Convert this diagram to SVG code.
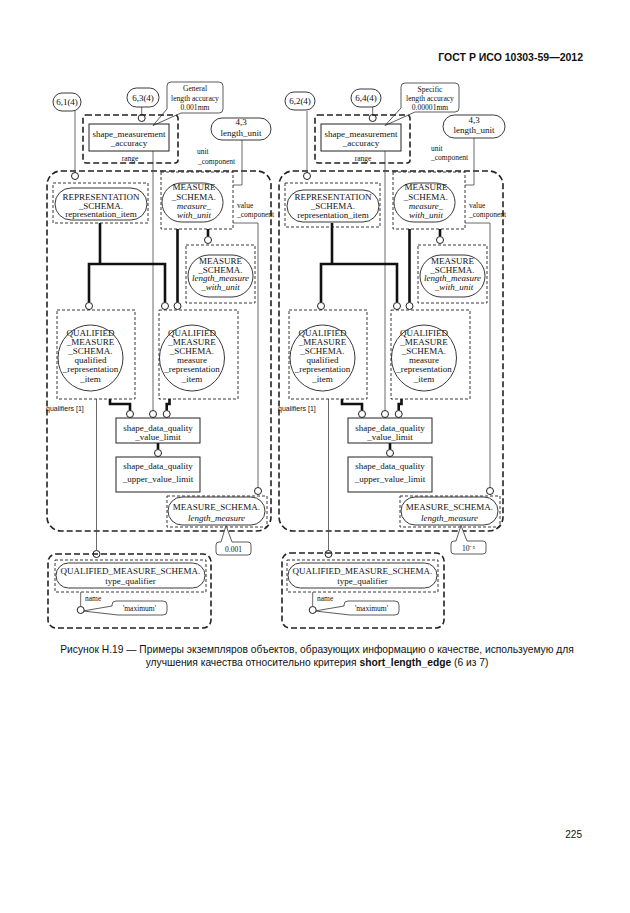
<svg xmlns="http://www.w3.org/2000/svg" width="630" height="913" viewBox="0 0 630 913">
<style>
.t{font-family:"Liberation Serif",serif;font-size:9px;fill:#111;text-anchor:middle}
.s{font-size:7.5px}
.n{font-size:7.6px}
.st{text-anchor:start}
.i{font-style:italic}
.cap{font-family:"Liberation Sans",sans-serif;fill:#111}
.box{fill:none;stroke:#222;stroke-width:1}
.pill{fill:none;stroke:#222;stroke-width:0.9}
.dash{fill:none;stroke:#222;stroke-width:0.9;stroke-dasharray:3,2}
.bdash{fill:none;stroke:#222;stroke-width:1.6;stroke-dasharray:6,3}
.ln{fill:none;stroke:#444;stroke-width:0.8}
.th{fill:none;stroke:#111;stroke-width:2.6}
.c{fill:#fff;stroke:#222;stroke-width:1}
.co{fill:#fff;stroke:#333;stroke-width:0.8}
</style>
<defs>
<circle id="dot" r="3.5" class="c"/>
</defs>
<rect width="630" height="913" fill="#fff"/>
<text class="cap" x="583" y="61" font-size="10.5" font-weight="bold" text-anchor="end">ГОСТ Р ИСО 10303-59—2012</text>

<!-- LEFT PANEL -->
<g id="left-panel">
<g id="L-container"><rect class="bdash" x="47" y="171" width="224" height="360" rx="14"/></g>
<g id="L-connectors">
<path class="ln" d="M75,111 V172.5"/>
<path class="ln" d="M141.7,107 V114.5"/>
<path class="ln" d="M153,151 V410.5"/>
<path class="ln" d="M242,140 V185 H233"/>
<path class="ln" d="M233,223 H258 V487.5"/>
<path class="ln" d="M96.5,399 V550.5"/>
<path class="ln" d="M80.7,592 V606.5"/>
<path class="th" d="M89,302.5 V264 H165 V302.5 M100,223 V264"/>
<path class="th" d="M177.5,229 V302.5"/>
<path class="th" d="M208,229 V236.5"/>
<path class="th" d="M110,399 V404 H130 V410.5"/>
<path class="th" d="M169.5,399 V404 H166.7 V410.5"/>
<path class="th" d="M158,443 V449.5"/>
<use href="#dot" x="75" y="176"/>
<use href="#dot" x="141.7" y="118"/>
<use href="#dot" x="208" y="240"/>
<use href="#dot" x="89" y="306"/>
<use href="#dot" x="165" y="306"/>
<use href="#dot" x="177.5" y="306"/>
<use href="#dot" x="130" y="414"/>
<use href="#dot" x="153" y="414"/>
<use href="#dot" x="166.7" y="414"/>
<use href="#dot" x="158" y="453"/>
<use href="#dot" x="258" y="491"/>
<use href="#dot" x="96.5" y="554"/>
<text class="t s st" x="197" y="154">unit</text>
<text class="t s st" x="198" y="163.5">_component</text>
<text class="t s st" x="237" y="207.5">value</text>
<text class="t s st" x="237" y="217">_component</text>
<text class="cap" x="46" y="411" font-size="7">qualifiers [1]</text>
<text class="t s st" x="85" y="600.5">name</text>
</g>
<g id="L-ref61"><rect class="pill" x="53" y="93" width="28" height="18" rx="9"/><text class="t" x="67" y="105.3">6,1(4)</text></g>
<g id="L-ref63"><rect class="pill" x="127" y="88" width="32" height="19" rx="9.5"/><text class="t" x="143" y="100.5">6,3(4)</text></g>
<g id="L-note-accuracy"><path class="co" d="M171,82 H219 Q223,82 223,86 V109 Q223,113 219,113 H181 L153,125.5 L167,109 V86 Q167,82 171,82 Z"/>
<text class="t n" x="195" y="91">General</text><text class="t n" x="195" y="100.5">length accuracy</text><text class="t n" x="195" y="110">0.001mm</text></g>
<g id="L-sma"><rect class="bdash" x="83" y="115" width="95" height="48" rx="3"/><rect class="box" x="89" y="124" width="80" height="27"/>
<text class="t" x="129" y="136.5">shape_measurement</text><text class="t" x="129" y="146">_accuracy</text><text class="t s" x="130" y="160.5">range</text></g>
<g id="L-ref43"><rect class="pill" x="211" y="118" width="60" height="22" rx="11"/><text class="t" x="241" y="125">4,3</text><text class="t" x="241" y="135.5">length_unit</text></g>
<g id="L-rep"><rect class="dash" x="53" y="183" width="95" height="40"/><rect class="pill" x="55" y="188" width="92" height="32" rx="16"/>
<text class="t" x="101" y="200">REPRESENTATION</text><text class="t" x="101" y="208.5">_SCHEMA.</text><text class="t" x="101" y="217">representation_item</text></g>
<g id="L-mwu"><rect class="dash" x="161" y="172" width="72" height="57"/><rect class="pill" x="162" y="183" width="61" height="39" rx="19.5"/>
<text class="t" x="194" y="190">MEASURE</text><text class="t" x="194" y="199.5">_SCHEMA.</text><text class="t i" x="194" y="209">measure_</text><text class="t i" x="194" y="218">with_unit</text></g>
<g id="L-lmwu"><rect class="dash" x="186" y="245" width="69" height="58"/><rect class="pill" x="188" y="255" width="65" height="42" rx="21"/>
<text class="t" x="220.5" y="264">MEASURE</text><text class="t" x="220.5" y="272.5">_SCHEMA.</text><text class="t i" x="220.5" y="281">length_measure</text><text class="t i" x="220.5" y="290">_with_unit</text></g>
<g id="L-qri"><rect class="dash" x="57" y="310" width="78" height="89"/><ellipse class="pill" cx="90.5" cy="358" rx="32.5" ry="33"/>
<text class="t" x="90.5" y="336">QUALIFIED</text><text class="t" x="90.5" y="345">_MEASURE</text><text class="t" x="90.5" y="354">_SCHEMA.</text><text class="t" x="90.5" y="363">qualified</text><text class="t" x="90.5" y="372">_representation</text><text class="t" x="90.5" y="381.5">_item</text></g>
<g id="L-mri"><rect class="dash" x="159" y="310" width="79" height="89"/><ellipse class="pill" cx="192" cy="358" rx="32.5" ry="33"/>
<text class="t" x="192" y="336">QUALIFIED</text><text class="t" x="192" y="345">_MEASURE</text><text class="t" x="192" y="354">_SCHEMA.</text><text class="t" x="192" y="363">measure</text><text class="t" x="192" y="372">_representation</text><text class="t" x="192" y="381.5">_item</text></g>
<g id="L-dqvl"><rect class="box" x="116" y="418" width="84" height="25"/><text class="t" x="158" y="430.5">shape_data_quality</text><text class="t" x="158" y="440">_value_limit</text></g>
<g id="L-dquvl"><rect class="box" x="116" y="457" width="84" height="35"/><text class="t" x="158" y="469">shape_data_quality</text><text class="t" x="158" y="482">_upper_value_limit</text></g>
<g id="L-lm"><rect class="dash" x="167" y="496" width="100" height="31"/><rect class="pill" x="168" y="497" width="97" height="28" rx="14"/>
<text class="t" x="216.5" y="510">MEASURE_SCHEMA.</text><text class="t i" x="216.5" y="520.5">length_measure</text></g>
<g id="L-note-value"><path class="co" d="M219,542 H221 L226,525.5 L232,542 H248 Q251,542 251,545 V552 Q251,555 248,555 H219 Q216,555 216,552 V545 Q216,542 219,542 Z"/><text class="t s" x="233.5" y="551.5">0.001</text></g>
<g id="L-tq"><rect class="bdash" x="48" y="554" width="163" height="74" rx="8"/><rect class="dash" x="55" y="560" width="151" height="32"/><rect class="pill" x="56" y="563" width="149" height="25" rx="12.5"/>
<text class="t" x="130.5" y="574">QUALIFIED_MEASURE_SCHEMA.</text><text class="t" x="130.5" y="584">type_qualifier</text></g>
<g id="L-note-max"><path class="co" d="M116,601 H163 Q167,601 167,605 V611 Q167,615 163,615 H118 L83,611 L112,606 V605 Q112,601 116,601 Z"/><text class="t s" x="139.5" y="611">'maximum'</text></g>
<use href="#dot" x="80.7" y="610"/>
</g>

<!-- RIGHT PANEL -->
<g id="right-panel" transform="translate(232,0)">
<g id="R-container"><rect class="bdash" x="47" y="171" width="224" height="360" rx="14"/></g>
<g id="R-connectors">
<path class="ln" d="M75,111 V172.5"/>
<path class="ln" d="M140.7,107 V114.5"/>
<path class="ln" d="M153,151 V410.5"/>
<path class="ln" d="M242,138 V185 H233"/>
<path class="ln" d="M233,223 H258 V487.5"/>
<path class="ln" d="M96.5,399 V550.5"/>
<path class="ln" d="M80.7,592 V606.5"/>
<path class="th" d="M89,302.5 V264 H165 V302.5 M100,223 V264"/>
<path class="th" d="M177.5,229 V302.5"/>
<path class="th" d="M208,229 V236.5"/>
<path class="th" d="M110,399 V404 H130 V410.5"/>
<path class="th" d="M169.5,399 V404 H166.7 V410.5"/>
<path class="th" d="M158,443 V449.5"/>
<use href="#dot" x="75" y="176"/>
<use href="#dot" x="140.7" y="118"/>
<use href="#dot" x="208" y="240"/>
<use href="#dot" x="89" y="306"/>
<use href="#dot" x="165" y="306"/>
<use href="#dot" x="177.5" y="306"/>
<use href="#dot" x="130" y="414"/>
<use href="#dot" x="153" y="414"/>
<use href="#dot" x="166.7" y="414"/>
<use href="#dot" x="158" y="453"/>
<use href="#dot" x="258" y="491"/>
<use href="#dot" x="96.5" y="554"/>
<text class="t s st" x="199" y="151">unit</text>
<text class="t s st" x="199" y="160">_component</text>
<text class="t s st" x="237" y="207.5">value</text>
<text class="t s st" x="237" y="217">_component</text>
<text class="cap" x="46" y="411" font-size="7">qualifiers [1]</text>
<text class="t s st" x="85" y="600.5">name</text>
</g>
<g id="R-ref62"><rect class="pill" x="53" y="92" width="30" height="18" rx="9"/><text class="t" x="68" y="104.3">6,2(4)</text></g>
<g id="R-ref64"><rect class="pill" x="119" y="89" width="30" height="18" rx="9"/><text class="t" x="134" y="101.3">6,4(4)</text></g>
<g id="R-note-accuracy"><path class="co" d="M173,83 H223 Q227,83 227,87 V108 Q227,112 223,112 H183 L153,125.5 L169,108 V87 Q169,83 173,83 Z"/>
<text class="t n" x="198" y="91.5">Specific</text><text class="t n" x="198" y="101">length accuracy</text><text class="t n" x="198" y="110">0.00001mm</text></g>
<g id="R-sma"><rect class="bdash" x="83" y="115" width="95" height="48" rx="3"/><rect class="box" x="89" y="124" width="80" height="27"/>
<text class="t" x="129" y="136.5">shape_measurement</text><text class="t" x="129" y="146">_accuracy</text><text class="t s" x="131" y="160.5">range</text></g>
<g id="R-ref43"><rect class="pill" x="211" y="115" width="62" height="23" rx="11.5"/><text class="t" x="242" y="122.5">4,3</text><text class="t" x="242" y="133">length_unit</text></g>
<g id="R-rep"><rect class="dash" x="53" y="183" width="95" height="44"/><rect class="pill" x="55" y="190" width="92" height="32" rx="16"/>
<text class="t" x="101" y="199.5">REPRESENTATION</text><text class="t" x="101" y="208.5">_SCHEMA.</text><text class="t" x="101" y="218">representation_item</text></g>
<g id="R-mwu"><rect class="dash" x="161" y="172" width="72" height="57"/><rect class="pill" x="162" y="183" width="61" height="39" rx="19.5"/>
<text class="t" x="194" y="190">MEASURE</text><text class="t" x="194" y="199.5">_SCHEMA.</text><text class="t i" x="194" y="209">measure_</text><text class="t i" x="194" y="218">with_unit</text></g>
<g id="R-lmwu"><rect class="dash" x="186" y="245" width="69" height="58"/><rect class="pill" x="188" y="255" width="65" height="42" rx="21"/>
<text class="t" x="220.5" y="264">MEASURE</text><text class="t" x="220.5" y="272.5">_SCHEMA.</text><text class="t i" x="220.5" y="281">length_measure</text><text class="t i" x="222" y="290">_with_unit</text></g>
<g id="R-qri"><rect class="dash" x="57" y="310" width="78" height="89"/><ellipse class="pill" cx="90.5" cy="358" rx="32.5" ry="33"/>
<text class="t" x="90.5" y="336">QUALIFIED</text><text class="t" x="90.5" y="345">_MEASURE</text><text class="t" x="90.5" y="354">_SCHEMA.</text><text class="t" x="90.5" y="363">qualified</text><text class="t" x="90.5" y="372">_representation</text><text class="t" x="90.5" y="381.5">_item</text></g>
<g id="R-mri"><rect class="dash" x="159" y="310" width="79" height="89"/><ellipse class="pill" cx="192" cy="358" rx="32.5" ry="33"/>
<text class="t" x="192" y="336">QUALIFIED</text><text class="t" x="192" y="345">_MEASURE</text><text class="t" x="192" y="354">_SCHEMA.</text><text class="t" x="192" y="363">measure</text><text class="t" x="192" y="372">_representation</text><text class="t" x="192" y="381.5">_item</text></g>
<g id="R-dqvl"><rect class="box" x="116" y="418" width="84" height="25"/><text class="t" x="158" y="430.5">shape_data_quality</text><text class="t" x="158" y="440">_value_limit</text></g>
<g id="R-dquvl"><rect class="box" x="116" y="457" width="84" height="35"/><text class="t" x="158" y="469">shape_data_quality</text><text class="t" x="158" y="482">_upper_value_limit</text></g>
<g id="R-lm"><rect class="dash" x="168" y="496" width="100" height="31"/><rect class="pill" x="169" y="497" width="97" height="28" rx="14"/>
<text class="t" x="217.5" y="510">MEASURE_SCHEMA.</text><text class="t i" x="217.5" y="520.5">length_measure</text></g>
<g id="R-note-value"><path class="co" d="M222,541 H224 L229,525.5 L235,541 H251 Q254,541 254,544 V551 Q254,554 251,554 H222 Q219,554 219,551 V544 Q219,541 222,541 Z"/><text class="t s" x="236.5" y="550.5">10⁻⁵</text></g>
<g id="R-tq"><rect class="bdash" x="50" y="553" width="162" height="75" rx="8"/><rect class="dash" x="55" y="560" width="151" height="32"/><rect class="pill" x="56" y="563" width="149" height="25" rx="12.5"/>
<text class="t" x="130.5" y="574">QUALIFIED_MEASURE_SCHEMA.</text><text class="t" x="130.5" y="584">type_qualifier</text></g>
<g id="R-note-max"><path class="co" d="M116,601 H163 Q167,601 167,605 V611 Q167,615 163,615 H118 L83,611 L112,606 V605 Q112,601 116,601 Z"/><text class="t s" x="139.5" y="611">'maximum'</text></g>
<use href="#dot" x="80.7" y="610"/>
</g>

<g id="caption">
<text class="cap" x="317" y="653" font-size="10.25" text-anchor="middle">Рисунок Н.19 — Примеры экземпляров объектов, образующих информацию о качестве, используемую для</text>
<text class="cap" x="317" y="665.5" font-size="10.25" text-anchor="middle">улучшения качества относительно критерия <tspan font-weight="bold">short_length_edge</tspan> (6 из 7)</text>
</g>
<text class="cap" x="582" y="838" font-size="10" text-anchor="end">225</text>
</svg>
